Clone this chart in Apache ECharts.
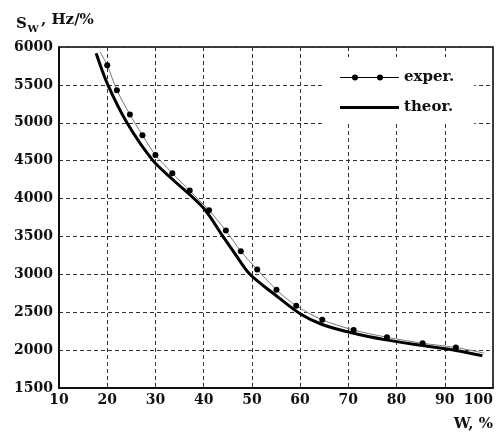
<!DOCTYPE html>
<html>
<head>
<meta charset="utf-8">
<script src="https://cdn.jsdelivr.net/npm/echarts@6/dist/echarts.min.js"></script>
<style>
  html, body { margin: 0; padding: 0; background: #fff; }
  #chart { width: 497px; height: 432px; }
</style>
</head>
<body>
<div id="chart"></div>
<script>
// experimental curve: first and last points are the ends of the thin line (no dot)
const experW = [18.5, 20, 22, 24.7, 27.3, 30, 33.5, 37.1, 41.1, 44.6, 47.7, 51.1, 55.1, 59.2, 64.6, 71.1, 78, 85.4, 92.3, 98.2];
const experS = [5935, 5760, 5430, 5110, 4835, 4575, 4335, 4105, 3845, 3577, 3305, 3065, 2795, 2585, 2400, 2265, 2170, 2090, 2035, 1960];

// theoretical curve
const theorW = [17.7, 20, 24.1, 29.5, 33.7, 40, 44, 46.4, 49.6, 54.4, 60, 64.7, 70.9, 77.8, 85.4, 92.3, 97.8];
const theorS = [5917, 5520, 5000, 4500, 4245, 3872, 3500, 3280, 3000, 2750, 2480, 2335, 2225, 2135, 2060, 1995, 1925];

const xTicks = [10, 20, 30, 40, 50, 60, 70, 80, 90, 100];
const yTicks = [1500, 2000, 2500, 3000, 3500, 4000, 4500, 5000, 5500, 6000];

const FONT = 'DejaVu Serif';
const INK = '#111';

const experData = experW.map((w, i) => {
  const item = { value: [w, experS[i]] };
  if (i === 0 || i === experW.length - 1) item.symbol = 'none';
  return item;
});
const theorData = theorW.map((w, i) => [w, theorS[i]]);

const gridLine = { show: true, lineStyle: { color: '#333', width: 1, type: [4, 3] } };
const titleText = (size) => ({ fontFamily: FONT, fontWeight: 'bold', fontSize: size, color: INK });

const chart = echarts.init(document.getElementById('chart'), null, { renderer: 'canvas' });
chart.setOption({
  animation: false,
  backgroundColor: '#fff',
  title: [
    { text: 'S', left: 16, top: 17, padding: 0, textStyle: titleText(15) },
    { text: 'W', left: 27.5, top: 24, padding: 0, textStyle: titleText(10) },
    { text: ', Hz/%', left: 41, top: 13, padding: 0, textStyle: titleText(15) },
    { text: 'W, %', right: 4, top: 417, padding: 0, textStyle: titleText(15) }
  ],
  grid: { left: 59, top: 47, right: 4, bottom: 44, show: true, borderColor: '#000', borderWidth: 1.5 },
  legend: {
    orient: 'vertical',
    left: 325,
    top: 57,
    padding: [13, 20, 9, 15],
    itemGap: 15,
    itemWidth: 59,
    itemHeight: 7,
    backgroundColor: '#fff',
    textStyle: { fontFamily: FONT, fontWeight: 'bold', fontSize: 15, color: INK },
    data: [
      { name: 'exper.', icon: 'path://M0,3 L59,3 L59,4.2 L0,4.2 Z M12,3.6 A3,3 0 1,1 18,3.6 A3,3 0 1,1 12,3.6 Z M37,3.6 A3,3 0 1,1 43,3.6 A3,3 0 1,1 37,3.6 Z' },
      { name: 'theor.', icon: 'path://M0,2 L59,2 L59,5 L0,5 Z' }
    ]
  },
  xAxis: {
    type: 'value',
    min: xTicks[0],
    max: xTicks[xTicks.length - 1],
    interval: 10,
    axisLine: { show: true, lineStyle: { color: '#000', width: 1.5 } },
    axisTick: { show: false },
    splitLine: gridLine,
    axisLabel: {
      margin: 5,
      fontFamily: FONT, fontWeight: 'bold', fontSize: 14, color: INK,
      alignMaxLabel: 'right',
      formatter: (v) => String(v)
    }
  },
  yAxis: {
    type: 'value',
    min: yTicks[0],
    max: yTicks[yTicks.length - 1],
    interval: 500,
    axisLine: { show: true, lineStyle: { color: '#000', width: 1.5 } },
    axisTick: { show: false },
    splitLine: gridLine,
    axisLabel: {
      margin: 6,
      fontFamily: FONT, fontWeight: 'bold', fontSize: 14, color: INK,
      formatter: (v) => String(v)
    }
  },
  series: [
    {
      name: 'theor.',
      type: 'line',
      data: theorData,
      smooth: 0.3,
      symbol: 'none',
      color: '#000',
      lineStyle: { color: '#000', width: 3 },
      z: 2
    },
    {
      name: 'exper.',
      type: 'line',
      data: experData,
      smooth: 0.3,
      symbol: 'circle',
      symbolSize: 6,
      color: '#000',
      itemStyle: { color: '#000' },
      lineStyle: { color: '#777', width: 1 },
      z: 3
    }
  ]
});
</script>
</body>
</html>
